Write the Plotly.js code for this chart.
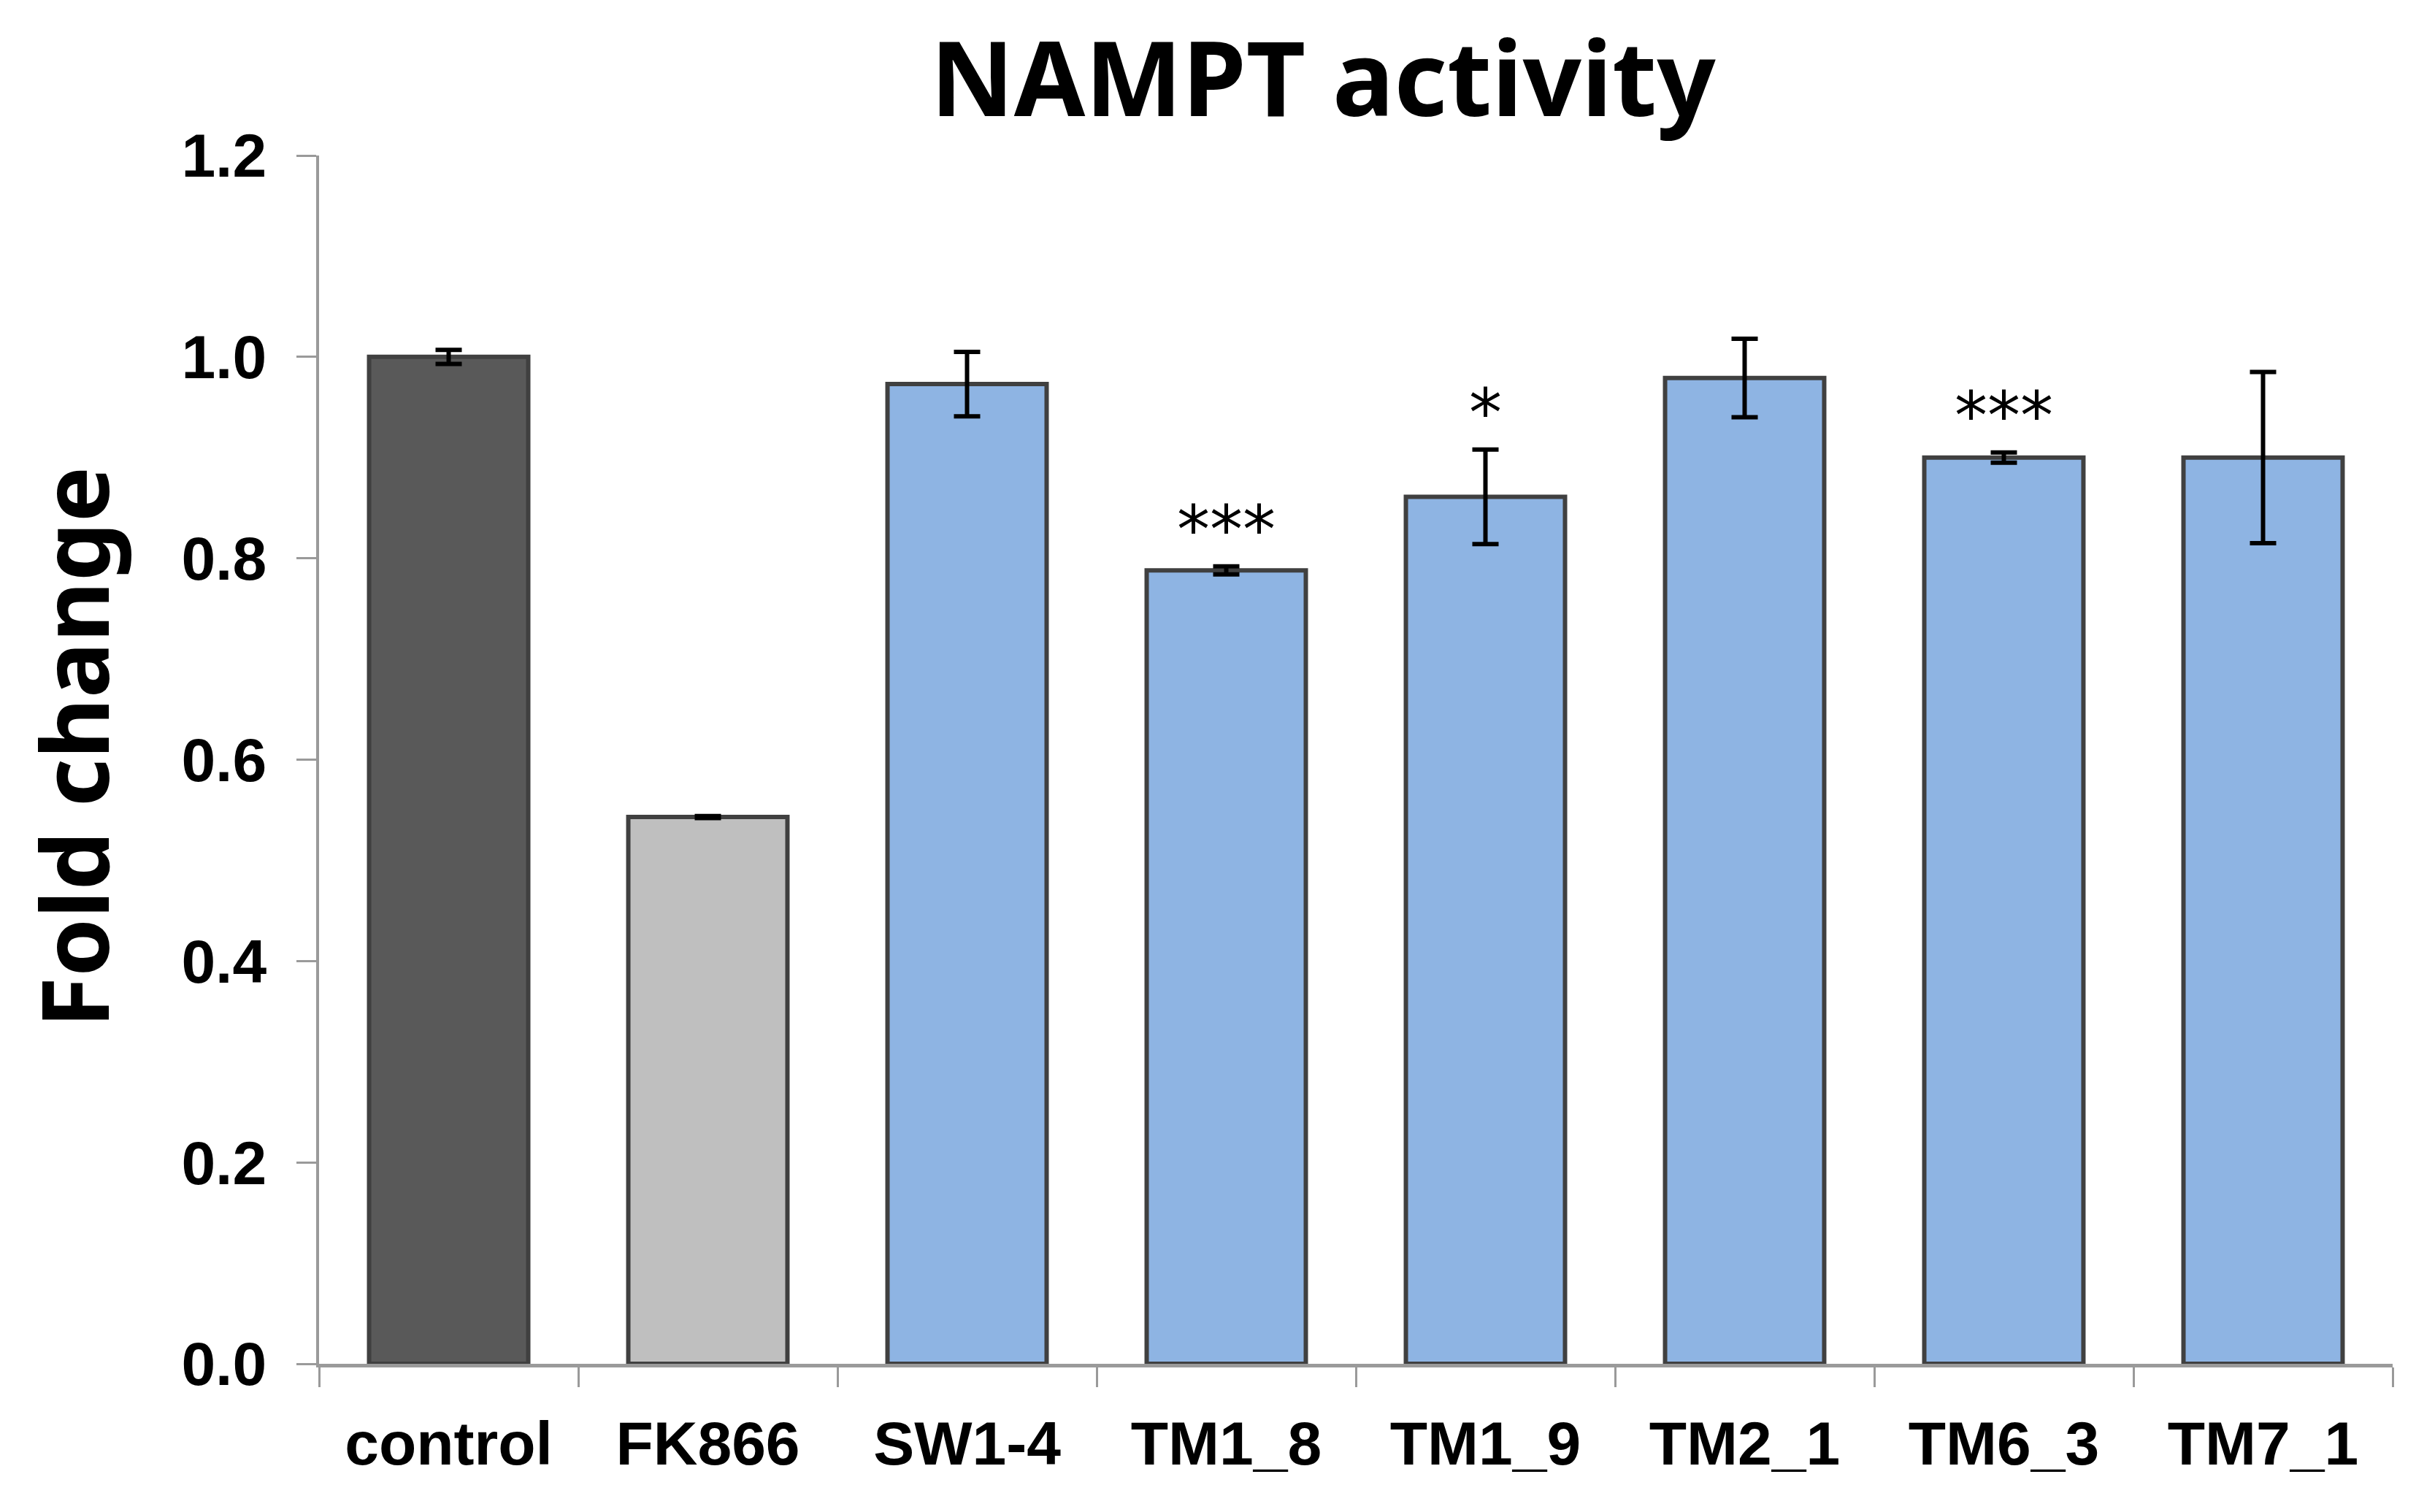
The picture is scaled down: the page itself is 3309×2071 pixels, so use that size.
<!DOCTYPE html>
<html>
<head>
<meta charset="utf-8">
<script src="https://cdn.plot.ly/plotly-3.0.1.min.js"></script>
<style>
  html, body { margin: 0; padding: 0; background: #ffffff; }
  #chart { width: 3309px; height: 2071px; }
</style>
</head>
<body>
<div id="chart"></div>
<script>
// Samples and NAMPT activity (fold change vs. control)
const categories = ["control", "FK866", "SW1-4", "TM1_8", "TM1_9", "TM2_1", "TM6_3", "TM7_1"];
const foldChange = [1.000, 0.543, 0.973, 0.788, 0.861, 0.979, 0.900, 0.900];
const stdError   = [0.007, 0.001, 0.032, 0.004, 0.047, 0.039, 0.005, 0.085];
const significance = ["", "", "", "***", "*", "", "***", ""];
const barColors = ["#595959", "#bfbfbf", "#8eb4e3", "#8eb4e3", "#8eb4e3", "#8eb4e3", "#8eb4e3", "#8eb4e3"];
const yTicks = [0, 0.2, 0.4, 0.6, 0.8, 1.0, 1.2];

const W = 3309, H = 2071;
const margin = { l: 437, r: 32, t: 213, b: 203 };
const axisGray = "#9a9a9a";

const trace = {
  type: "bar",
  x: categories,
  y: foldChange,
  marker: {
    color: barColors,
    line: { color: "#404040", width: 6 }
  },
  error_y: {
    type: "data",
    array: stdError,
    visible: true,
    color: "#000000",
    thickness: 6,
    width: 18
  },
  hoverinfo: "x+y"
};

// significance marks sit above each error bar
const annotations = [];
categories.forEach((c, i) => {
  if (!significance[i]) return;
  annotations.push({
    x: c, xref: "x",
    y: foldChange[i] + stdError[i], yref: "y",
    yanchor: "middle", xanchor: "center",
    yshift: 50,
    text: significance[i],
    showarrow: false,
    font: { family: "DejaVu Sans", size: 90, color: "#000000" }
  });
});

// vertical axis title
const plotW = W - margin.l - margin.r;
annotations.push({
  xref: "paper", yref: "paper",
  x: (100 - margin.l) / plotW, y: 0.51,
  xanchor: "center", yanchor: "middle",
  textangle: -90,
  text: "Fold change",
  showarrow: false,
  font: { family: "Noto Sans", size: 128, weight: "bold", color: "#000000" }
});

const layout = {
  width: W, height: H,
  margin: margin,
  paper_bgcolor: "#ffffff",
  plot_bgcolor: "#ffffff",
  showlegend: false,
  bargap: 0.386,
  title: {
    text: "NAMPT activity",
    xref: "container", x: 1812 / W, xanchor: "center",
    yref: "container", y: 1 - 110 / H, yanchor: "middle",
    font: { family: "Noto Sans", size: 141, weight: "bold", color: "#000000" }
  },
  xaxis: {
    type: "category",
    showline: true, linecolor: axisGray, linewidth: 5,
    ticks: "outside", tickson: "boundaries",
    ticklen: 27, tickwidth: 3, tickcolor: axisGray,
    showgrid: false, zeroline: false,
    ticklabelstandoff: 32,
    tickfont: { family: "Liberation Sans", size: 84, weight: "bold", color: "#000000" }
  },
  yaxis: {
    range: [0, 1.2],
    tickvals: yTicks,
    ticktext: yTicks.map(v => v.toFixed(1)),
    showline: true, linecolor: axisGray, linewidth: 4,
    ticks: "outside", ticklen: 27, tickwidth: 3, tickcolor: axisGray,
    showgrid: false, zeroline: false,
    ticklabelstandoff: 24,
    tickfont: { family: "Liberation Sans", size: 84, weight: "bold", color: "#000000" }
  },
  annotations: annotations
};

Plotly.newPlot("chart", [trace], layout, { displayModeBar: false, staticPlot: true });
</script>
</body>
</html>
